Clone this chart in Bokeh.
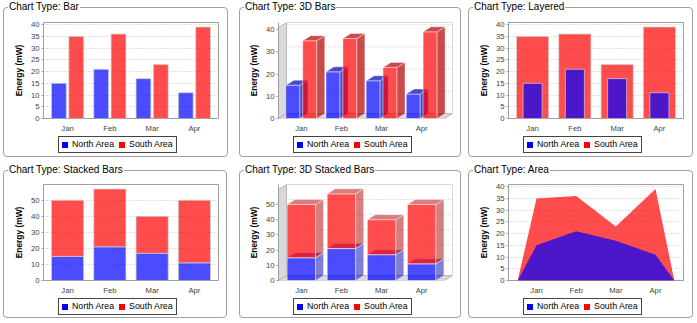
import numpy as np
from bokeh.plotting import figure
from bokeh.models import (Range1d, FixedTicker, GridBox, Div)
from bokeh.embed import file_html
from bokeh.resources import INLINE

# ---------------- data ----------------
months = ["Jan", "Feb", "Mar", "Apr"]
north = [15, 21, 17, 11]
south = [35, 36, 23, 39]
series = ["North Area", "South Area"]
titles = ["Chart Type: Bar", "Chart Type: 3D Bars", "Chart Type: Layered",
          "Chart Type: Stacked Bars", "Chart Type: 3D Stacked Bars", "Chart Type: Area"]
y_label = "Energy (mW)"

# ---------------- style ----------------
FONT = "Liberation Sans"
BLUE, RED = "#0000ff", "#ff0000"
SERIES_COLORS = [BLUE, RED]
BLUE_DARK, RED_DARK = "#0000b0", "#b00000"
ALPHA = 0.7
EDGE = 0.569        # category-axis outer margin, in category spacings
AREA_EDGE = 0.707
UPPER = 1.05        # upper range margin
DX, DY = 8, 5       # 3D depth in pixels
GRID_COLOR, GRID_DASH = "#c4c4c4", "1 2"

x = np.arange(len(months))
n_arr = np.array(north, dtype=float)
s_arr = np.array(south, dtype=float)


def chart_fig(w, h, left, right, top, bottom, xr, yr, y_ticks, frame_outline=True):
    p = figure(width=w, height=h, title=None, x_range=Range1d(*xr), y_range=Range1d(*yr),
               output_backend="svg", toolbar_location=None,
               min_border_left=left, min_border_right=right,
               min_border_top=top, min_border_bottom=bottom)
    p.background_fill_color = "white"
    p.border_fill_color = "white"
    p.outline_line_color = "#a0a0a0" if frame_outline else None
    p.xgrid.visible = False
    p.ygrid.grid_line_color = GRID_COLOR
    p.ygrid.grid_line_dash = GRID_DASH
    xa, ya = p.xaxis[0], p.yaxis[0]
    xa.ticker = FixedTicker(ticks=[int(v) for v in x])
    xa.major_label_overrides = {int(v): m for v, m in zip(x, months)}
    xa.major_tick_line_color = None
    xa.major_tick_out = 0
    xa.major_tick_in = 0
    xa.minor_tick_line_color = None
    xa.axis_line_color = None
    xa.major_label_standoff = 5
    xa.major_label_text_font = FONT
    xa.major_label_text_font_size = "7.7px"
    xa.major_label_text_color = "#444444"
    ya.ticker = FixedTicker(ticks=y_ticks)
    ya.axis_label = y_label
    ya.axis_label_text_font = FONT
    ya.axis_label_text_font_style = "bold"
    ya.axis_label_text_font_size = "8.4px"
    ya.axis_label_text_color = "#000000"
    ya.axis_label_standoff = 4
    ya.major_label_text_font = FONT
    ya.major_label_text_font_size = "7.7px"
    ya.major_label_text_color = "#444444"
    ya.major_tick_in = 0
    ya.major_tick_out = 2
    ya.major_label_standoff = 2
    ya.minor_tick_line_color = None
    ya.axis_line_color = "#a0a0a0"
    ya.major_tick_line_color = "#a0a0a0"
    return p


def panel_div(w, h, border, title, legend_xy):
    """Titled border and legend of one panel, laid over the chart."""
    bx0, by0, bx1, by1 = border
    lx, ly = legend_xy
    items = ""
    for i, (name, col) in enumerate(zip(series, SERIES_COLORS)):
        gap = "margin-left:5px;" if i else ""
        items += (f'<span style="display:inline-block;width:6px;height:6px;background:{col};'
                  f'{gap}margin-right:4px;"></span><span>{name}</span>')
    html = (
        f'<div style="position:relative;width:{w}px;height:{h}px;pointer-events:none;">'
        f'<div style="position:absolute;left:{bx0}px;top:{by0}px;width:{bx1 - bx0}px;'
        f'height:{by1 - by0}px;border:1px solid #a0a0a0;border-radius:4px;'
        f'box-sizing:border-box;"></div>'
        f'<span style="position:absolute;left:{bx0 + 5}px;top:{by0 - 6}px;background:#ffffff;'
        f"padding:0 1px;font-family:'{FONT}';font-size:10px;line-height:12px;color:#000000;"
        f'white-space:nowrap;">{title}</span>'
        f'<div style="position:absolute;left:{lx}px;top:{ly}px;height:17px;box-sizing:border-box;'
        f'border:1px solid #444444;background:#ffffff;display:flex;align-items:center;'
        f"padding:0 3px 0 3px;font-family:'{FONT}';font-size:8.8px;color:#000000;"
        f'white-space:nowrap;">{items}</div>'
        f'</div>'
    )
    return Div(text=html, width=w, height=h, margin=0)


def ticks_for(top, step):
    return list(range(0, int(top) + 1, step))


def walls_3d(p, x0, xf, x_end, y_end, dxd, dyd, grid_vals):
    p.patch([x0, x0 + dxd, x0 + dxd, x0], [0, dyd, y_end, y_end - dyd],
            fill_color="#d9d9d9", line_color="#b4b4b4", line_width=1)
    p.patch([x0, xf, xf + dxd, x0 + dxd], [0, 0, dyd, dyd],
            fill_color="#d9d9d9", line_color="#b4b4b4", line_width=1)
    p.quad(left=[x0 + dxd], right=[x_end], bottom=[dyd], top=[y_end],
           fill_color=None, line_color="#b8b8b8", line_width=1)
    gv = [g for g in grid_vals if g > 0]
    p.segment(x0=[x0 + dxd] * len(gv), x1=[x_end] * len(gv),
              y0=[g + dyd for g in gv], y1=[g + dyd for g in gv],
              line_color=GRID_COLOR, line_dash=GRID_DASH, line_width=1)


def bars_3d(p, lefts, rights, bottoms, tops, dxd, dyd, color, dark, side_alpha):
    p.quad(left=lefts, right=rights, bottom=bottoms, top=tops, fill_color=color,
           fill_alpha=ALPHA, line_color="white", line_alpha=0.5, line_width=1)
    side_xs = [[r, r + dxd, r + dxd, r] for r in rights]
    side_ys = [[b, b + dyd, t + dyd, t] for b, t in zip(bottoms, tops)]
    p.patches(side_xs, side_ys, fill_color=dark, fill_alpha=side_alpha,
              line_color="white", line_alpha=0.4, line_width=1)
    top_xs = [[l, r, r + dxd, l + dxd] for l, r in zip(lefts, rights)]
    top_ys = [[t, t, t + dyd, t + dyd] for t in tops]
    p.patches(top_xs, top_ys, fill_color=dark, fill_alpha=side_alpha,
              line_color="white", line_alpha=0.4, line_width=1)


BAR_LINE = dict(line_color="#d0d0d0", line_alpha=0.7, line_width=1)

# ---------------- panel 1 : Bar ----------------
ymax = max(max(north), max(south)) * UPPER
p1 = chart_fig(233, 162, 43, 15, 22, 44, (-EDGE, len(months) - 1 + EDGE), (0, ymax),
               ticks_for(ymax, 5))
p1.vbar(x=x - 0.205, top=north, width=0.35, fill_color=BLUE, fill_alpha=ALPHA, **BAR_LINE)
p1.vbar(x=x + 0.205, top=south, width=0.35, fill_color=RED, fill_alpha=ALPHA, **BAR_LINE)
d1 = panel_div(233, 162, (3, 7, 228, 157), titles[0], (58, 136))

# ---------------- panel 2 : 3D Bars ----------------
W2, L2, R2 = 231, 45, 12
FW = W2 - L2 - R2
FH = 96
u = (FW - DX) / (len(months) - 1 + 2 * EDGE)
dxd = DX / u
x0 = -EDGE
xf = len(months) - 1 + EDGE
x_end = x0 + FW / u
v = (FH - DY) / ymax
dyd = DY / v
y_end = FH / v
t2 = ticks_for(ymax, 10)
p2 = chart_fig(W2, 162, L2, R2, 22, 44, (x0, x_end), (0, y_end), t2, frame_outline=False)
p2.ygrid.visible = False
walls_3d(p2, x0, xf, x_end, y_end, dxd, dyd, t2)
zeros = [0.0] * len(months)
bars_3d(p2, list(x - 0.385), list(x - 0.035), zeros, list(n_arr), dxd, dyd, BLUE, BLUE_DARK, ALPHA)
bars_3d(p2, list(x + 0.035), list(x + 0.385), zeros, list(s_arr), dxd, dyd, RED, RED_DARK, ALPHA)
d2 = panel_div(W2, 162, (6, 7, 228, 157), titles[1], (60, 136))

# ---------------- panel 3 : Layered ----------------
p3 = chart_fig(233, 162, 44, 14, 22, 44, (-EDGE, len(months) - 1 + EDGE), (0, ymax),
               ticks_for(ymax, 5))
p3.vbar(x=x, top=south, width=0.76, fill_color=RED, fill_alpha=ALPHA, **BAR_LINE)
p3.vbar(x=x, top=north, width=0.45, fill_color=BLUE, fill_alpha=ALPHA, **BAR_LINE)
d3 = panel_div(233, 162, (4, 7, 229, 157), titles[2], (59, 136))

# ---------------- panel 4 : Stacked ----------------
tot = n_arr + s_arr
ymax_s = tot.max() * UPPER
p4 = chart_fig(233, 161, 43, 15, 22, 43, (-EDGE, len(months) - 1 + EDGE), (0, ymax_s),
               ticks_for(ymax_s, 10))
p4.vbar(x=x, bottom=0, top=north, width=0.76, fill_color=BLUE, fill_alpha=ALPHA, **BAR_LINE)
p4.vbar(x=x, bottom=n_arr, top=tot, width=0.76, fill_color=RED, fill_alpha=ALPHA, **BAR_LINE)
d4 = panel_div(233, 161, (3, 8, 227, 156), titles[3], (58, 136))

# ---------------- panel 5 : 3D Stacked ----------------
v5 = (FH - DY) / ymax_s
dyd5 = DY / v5
y_end5 = FH / v5
t5 = ticks_for(ymax_s, 10)
p5 = chart_fig(W2, 161, L2, R2, 22, 43, (x0, x_end), (0, y_end5), t5, frame_outline=False)
p5.ygrid.visible = False
walls_3d(p5, x0, xf, x_end, y_end5, dxd, dyd5, t5)
bars_3d(p5, list(x - 0.355), list(x + 0.355), zeros, list(n_arr), dxd, dyd5, BLUE, BLUE_DARK, 0.5)
bars_3d(p5, list(x - 0.355), list(x + 0.355), list(n_arr), list(tot), dxd, dyd5, RED, RED_DARK, 0.5)
d5 = panel_div(W2, 161, (6, 8, 228, 156), titles[4], (60, 136))

# ---------------- panel 6 : Area ----------------
p6 = chart_fig(233, 161, 44, 14, 22, 43, (-AREA_EDGE, len(months) - 1 + AREA_EDGE), (0, ymax),
               ticks_for(ymax, 5))
ax = [x[0] - 0.475] + list(x) + [x[-1] + 0.475]
p6.varea(x=ax, y1=0, y2=[0] + south + [0], fill_color=RED, fill_alpha=ALPHA)
p6.varea(x=ax, y1=0, y2=[0] + north + [0], fill_color=BLUE, fill_alpha=ALPHA)
d6 = panel_div(233, 161, (4, 8, 229, 156), titles[5], (59, 136))

children = []
for (ch, ov), (r, c) in zip([(p1, d1), (p2, d2), (p3, d3), (p4, d4), (p5, d5), (p6, d6)],
                            [(0, 0), (0, 1), (0, 2), (1, 0), (1, 1), (1, 2)]):
    children.append((ch, r, c))
    children.append((ov, r, c))

layout = GridBox(children=children, spacing=0)
open("out.html", "w").write(file_html(layout, INLINE))
